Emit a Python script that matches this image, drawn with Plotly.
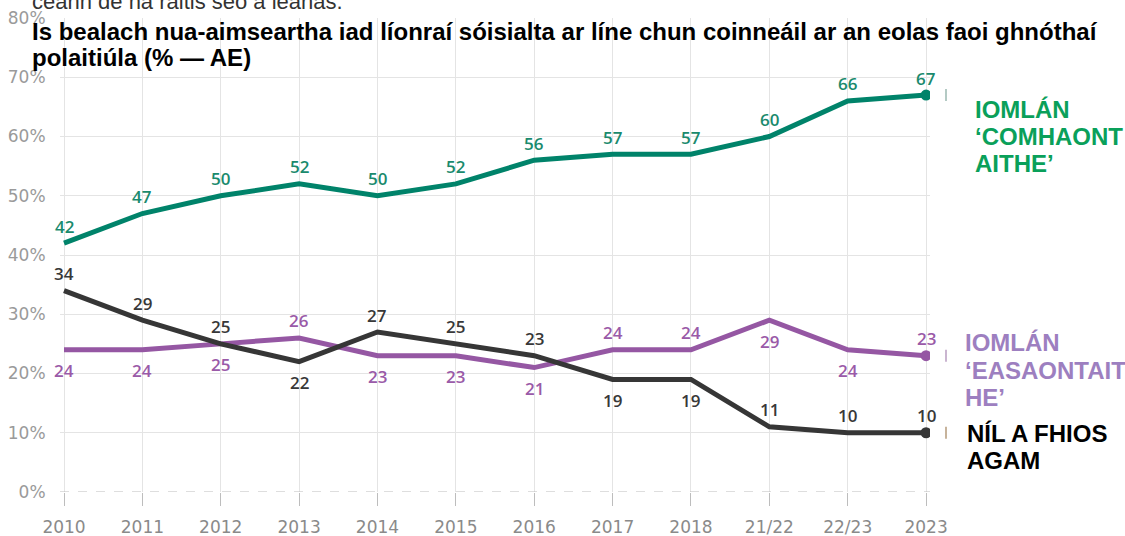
import plotly.graph_objects as go

# Survey periods (categorical x axis)
periods = ["2010", "2011", "2012", "2013", "2014", "2015", "2016", "2017",
           "2018", "21/22", "22/23", "2023"]

# Share of respondents (%)
agree = [42, 47, 50, 52, 50, 52, 56, 57, 57, 60, 66, 67]
disagree = [24, 24, 25, 26, 23, 23, 21, 24, 24, 29, 24, 23]
dont_know = [34, 29, 25, 22, 27, 25, 23, 19, 19, 11, 10, 10]

# Which side of the line each value label sits on (1 = above, -1 = below)
agree_side = [1] * 12
disagree_side = [-1, -1, -1, 1, -1, -1, -1, 1, 1, -1, -1, 1]
dont_know_side = [1, 1, 1, -1, 1, 1, 1, -1, -1, 1, 1, 1]

y_ticks = [0, 10, 20, 30, 40, 50, 60, 70, 80]
y_tick_text = [f"{v}%" for v in y_ticks]

title_lines = [
    "Is bealach nua-aimseartha iad líonraí sóisialta ar líne chun coinneáil ar an eolas faoi ghnóthaí",
    "polaitiúla (% — AE)",
]
agree_name = ["IOMLÁN", "‘COMHAONT", "AITHE’"]
disagree_name = ["IOMLÁN", "‘EASAONTAIT", "HE’"]
dont_know_name = ["NÍL A FHIOS", "AGAM"]

GREEN = "#00836a"
PURPLE = "#9557a3"
DARK = "#363636"

series = [
    (agree, agree_side, GREEN, "#1a8a6d", "#9bb8b0"),
    (disagree, disagree_side, PURPLE, "#9a5aa8", "#b89cc0"),
    (dont_know, dont_know_side, DARK, "#383838", "#b59a7a"),
]

fig = go.Figure()
annotations = []
shapes = []
for values, sides, line_col, label_col, tick_col in series:
    fig.add_trace(go.Scatter(
        x=periods, y=values, mode="lines",
        line=dict(color=line_col, width=5, shape="linear"),
        hoverinfo="skip", showlegend=False,
    ))
    # end-point marker
    fig.add_trace(go.Scatter(
        x=[periods[-1]], y=[values[-1]], mode="markers",
        marker=dict(color=line_col, size=11),
        hoverinfo="skip", showlegend=False,
    ))
    # value labels (category index used as x position)
    for i, (v, s) in enumerate(zip(values, sides)):
        annotations.append(dict(
            x=i, y=v, xref="x", yref="y", text=str(v), showarrow=False,
            yshift=17 if s > 0 else -21,
            font=dict(family="Open Sans", size=17, color=label_col, weight=600),
        ))
    # small leader stub to the right of the last point
    shapes.append(dict(
        type="line", xref="paper", yref="y",
        x0=(946 - 60) / 870, x1=(946 - 60) / 870,
        y0=values[-1] - 1.0, y1=values[-1] + 1.0,
        line=dict(color=tick_col, width=1.5),
    ))

# Dashed baseline at 0%
shapes.append(dict(type="line", xref="paper", yref="y", x0=0, x1=1, y0=0, y1=0,
                   line=dict(color="#bdbdbd", width=1, dash="dash")))

# plot area spans pixel rows 18..492
def py(pixel_y):
    return (492 - pixel_y) / 474


def px(pixel_x):
    return (pixel_x - 60) / 870


def text_block(lines, x_pix, y_pix_list, size, color, family="Liberation Sans",
               weight="bold"):
    out = []
    for line, yp in zip(lines, y_pix_list):
        out.append(dict(
            xref="paper", yref="paper", x=px(x_pix), y=py(yp),
            xanchor="left", yanchor="middle", showarrow=False, text=line,
            font=dict(family=family, size=size, color=color, weight=weight),
        ))
    return out


# cropped question text above the title
annotations += text_block(["ceann de na ráitis seo a leanas."], 30, [2], 22,
                          "#333333", weight="normal")
annotations += text_block(title_lines, 30, [32, 58], 24, "#000000")
annotations += text_block(agree_name, 973, [109, 136, 163], 24, "#0aa05a")
annotations += text_block(disagree_name, 963, [342, 370, 397], 24, "#9d7fc0")
annotations += text_block(dont_know_name, 965, [433, 460], 24, "#000000")

fig.update_layout(
    width=1125, height=536,
    margin=dict(l=60, r=195, t=18, b=44),
    paper_bgcolor="white", plot_bgcolor="white",
    annotations=annotations,
    shapes=shapes,
    xaxis=dict(
        type="category", range=[-0.051, 11.05], automargin=False,
        showgrid=True, gridcolor="#e4e4e4", gridwidth=1,
        showline=False, zeroline=False,
        ticks="outside", ticklen=13, tickcolor="#bdbdbd", tickwidth=1,
        ticklabelstandoff=7,
        tickfont=dict(family="DejaVu Sans", size=17, color="#8a8a8a"),
    ),
    yaxis=dict(
        range=[0, 80], tickvals=y_ticks, ticktext=y_tick_text, automargin=False,
        showgrid=True, gridcolor="#e4e4e4", gridwidth=1,
        showline=False, zeroline=False,
        ticks="outside", ticklen=10, tickcolor="rgba(0,0,0,0)",
        tickfont=dict(family="DejaVu Sans", size=17, color="#9a9a9a"),
    ),
)

fig.write_html("out.html")
